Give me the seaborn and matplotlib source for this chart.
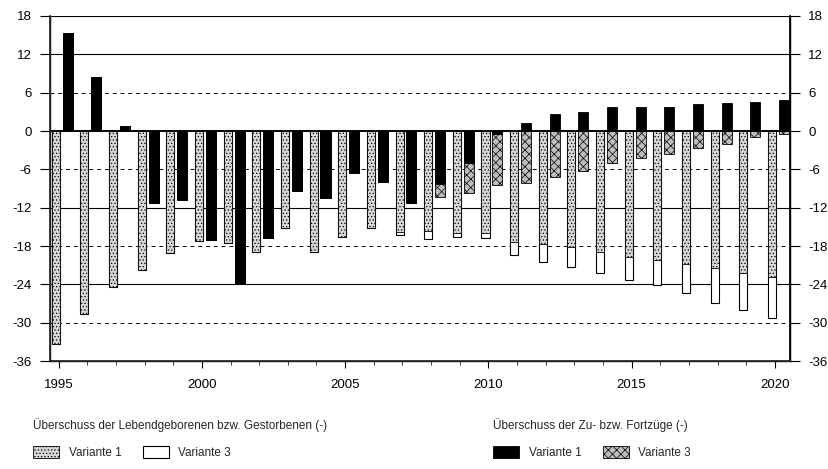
import numpy as np
import matplotlib.pyplot as plt
import seaborn as sns
from matplotlib.patches import Patch

years = list(range(1995, 2021))

# Überschuss der Lebendgeborenen bzw. Gestorbenen (-), in 1000
geb_v1 = [-33.3, -28.6, -24.4, -21.8, -19.1, -17.2, -17.5, -18.9, -15.2, -18.9,
          -16.6, -15.2, -15.8, -15.7, -16.0, -16.0, -17.3, -17.7, -18.1, -19.0,
          -19.7, -20.2, -20.8, -21.5, -22.2, -22.8]
geb_v3 = [-33.3, -28.6, -24.4, -21.8, -19.1, -17.2, -17.5, -18.9, -15.2, -18.9,
          -16.6, -15.2, -16.3, -16.9, -16.6, -16.8, -19.4, -20.5, -21.2, -22.2,
          -23.3, -24.1, -25.4, -26.9, -28.0, -29.3]

# Überschuss der Zu- bzw. Fortzüge (-), in 1000
wan_v1 = [15.3, 8.4, 0.8, -11.3, -10.8, -17.0, -24.0, -16.8, -9.4, -10.5,
          -6.6, -7.9, -11.3, -8.3, -5.0, -0.5, 1.2, 2.7, 3.0, 3.7,
          3.8, 3.8, 4.2, 4.4, 4.5, 4.8]
wan_v3 = [15.3, 8.4, 0.8, -11.3, -10.8, -17.0, -24.0, -16.8, -9.4, -10.5,
          -6.6, -7.9, -11.3, -10.3, -9.7, -8.5, -8.2, -7.2, -6.2, -5.0,
          -4.3, -3.6, -2.7, -2.1, -1.0, -0.5]

y_ticks = [18, 12, 6, 0, -6, -12, -18, -24, -30, -36]
x_labels = [1995, 2000, 2005, 2010, 2015, 2020]

sns.set_theme(style="white")
plt.rcParams['font.family'] = ['Liberation Sans Narrow', 'Liberation Sans', 'DejaVu Sans']
plt.rcParams['hatch.linewidth'] = 0.5

fig = plt.figure(figsize=(8.29, 4.69), dpi=100)
ax = fig.add_axes([0.060, 0.230, 0.893, 0.736])

yrs = np.array(years)

# grid lines: solid at multiples of 12, dashed in between
for t in y_ticks[:-1]:
    if t == 0:
        ax.axhline(t, color='black', lw=1.4, zorder=5)
    elif t % 12 == 0 or t == 18:
        ax.axhline(t, color='black', lw=0.8, zorder=1)
    else:
        ax.axhline(t, color='black', lw=0.7, ls=(0, (4, 4)), zorder=1)

style_geb_v1 = dict(facecolor='#d6d6d6', edgecolor='black', hatch='.....', linewidth=0.6)
style_geb_v3 = dict(facecolor='white', edgecolor='black', linewidth=0.8)
style_wan_v1 = dict(facecolor='black', edgecolor='black', linewidth=0.6)
style_wan_v3 = dict(facecolor='#bdbdbd', edgecolor='black', hatch='xxxx', linewidth=0.6)

sns.barplot(x=yrs - 0.10, y=geb_v3, native_scale=True, width=0.28, errorbar=None,
            ax=ax, zorder=2, **style_geb_v3)
sns.barplot(x=yrs - 0.10, y=geb_v1, native_scale=True, width=0.28, errorbar=None,
            ax=ax, zorder=3, **style_geb_v1)
sns.barplot(x=yrs + 0.315, y=wan_v3, native_scale=True, width=0.35, errorbar=None,
            ax=ax, zorder=3, **style_wan_v3)
sns.barplot(x=yrs + 0.315, y=wan_v1, native_scale=True, width=0.35, errorbar=None,
            ax=ax, zorder=4, **style_wan_v1)

ax.set_xlim(1994.69, 2020.53)
ax.set_ylim(-36, 18)
ax.set_yticks(y_ticks)
ax.set_yticklabels([str(t) for t in y_ticks])
ax.set_xticks(x_labels)
ax.set_xticklabels([str(t) for t in x_labels])
ax.set_xticks(years, minor=True)
ax.set_xlabel('')
ax.set_ylabel('')
ax.tick_params(axis='x', which='major', direction='out', length=5, width=0.8,
               labelsize=9.5, pad=8, bottom=True, colors='black')
ax.tick_params(axis='x', which='minor', direction='out', length=3, width=0.6, bottom=True)
ax.tick_params(axis='y', direction='out', length=7, width=0.8, labelsize=9.5,
               left=True, pad=6, colors='black')

for side in ['left', 'right', 'bottom']:
    ax.spines[side].set_color('black')
    ax.spines[side].set_linewidth(1.0)
ax.spines['top'].set_visible(False)

ax2 = ax.twinx()
ax2.set_ylim(-36, 18)
ax2.set_yticks(y_ticks)
ax2.set_yticklabels([str(t) for t in y_ticks])
ax2.tick_params(axis='y', direction='out', length=7, width=0.8, labelsize=9.5,
                right=True, pad=6, colors='black')
ax2.spines['top'].set_visible(False)
ax2.spines['right'].set_color('black')
ax2.grid(False)
ax.grid(False)

h_geb = [Patch(**style_geb_v1), Patch(**style_geb_v3)]
h_wan = [Patch(**style_wan_v1), Patch(**style_wan_v3)]

leg_kw = dict(ncol=2, frameon=False, loc='upper left', fontsize=8.5, title_fontsize=8.5,
              alignment='left', handlelength=2.2, handleheight=1.1, handletextpad=0.8,
              columnspacing=1.8, labelspacing=1.2, borderpad=0, borderaxespad=0)
leg1 = fig.legend(h_geb, ['Variante 1', 'Variante 3'],
                  title='Überschuss der Lebendgeborenen bzw. Gestorbenen (-)',
                  bbox_to_anchor=(0.040, 0.108), **leg_kw)
leg2 = fig.legend(h_wan, ['Variante 1', 'Variante 3'],
                  title='Überschuss der Zu- bzw. Fortzüge (-)',
                  bbox_to_anchor=(0.595, 0.108), **leg_kw)

fig.savefig('out.png', dpi=100)
